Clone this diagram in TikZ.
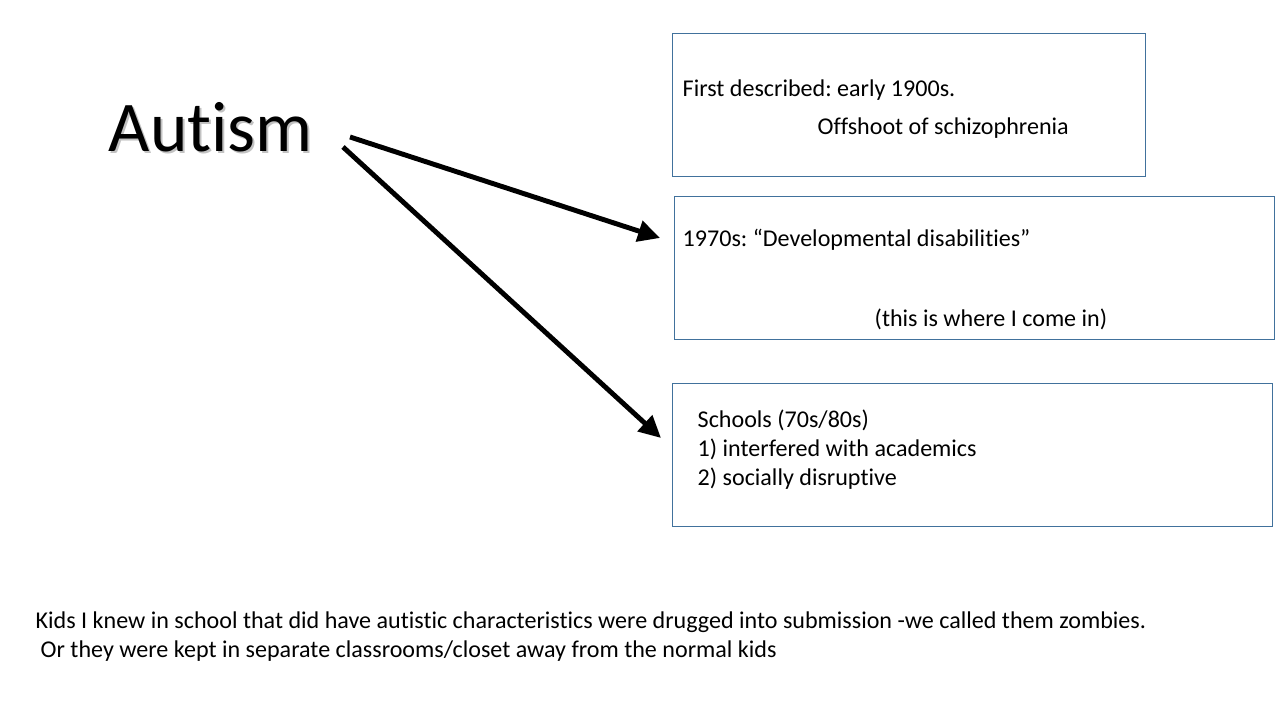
\documentclass[tikz,border=0pt]{standalone}
\usepackage{fontspec}
\setmainfont{Carlito}[Ligatures=NoCommon]
\usepackage{xcolor}
\usetikzlibrary{arrows.meta, positioning}
\definecolor{boxline}{HTML}{41719C}
\definecolor{shade}{HTML}{9A9A9A}
\frenchspacing

\begin{document}
\begin{tikzpicture}[
    card/.style={
        rectangle, draw=boxline, line width=0.4pt,
        minimum height=1.43cm, anchor=north west, inner sep=0pt,
    },
    line/.style={
        font=\fontsize{6.85}{8}\selectfont,
        anchor=base west, inner sep=0pt,
    },
    bigword/.style={
        font=\fontsize{20.3}{24}\selectfont,
        anchor=base west, inner sep=0pt,
    },
    pointer/.style={
        line width=1.4pt, -{Triangle[length=0.22cm, width=0.21cm]},
    },
]
\useasboundingbox (0,0) rectangle (12.8,-7.2);

% ── Title ──────────────────────────────────────────────────────────────────
\node[bigword, text=shade!60] (titleshadow) at (1.10,-1.54) {Autism};
\node[bigword] (title) at (1.08,-1.52) {Autism};

% ── Boxes ──────────────────────────────────────────────────────────────────
\node[card, minimum width=4.73cm] (early)   at (6.72,-0.33) {};
\node[card, minimum width=6.00cm] (seventy) at (6.74,-1.96) {};
\node[card, minimum width=6.00cm] (school)  at (6.72,-3.83) {};

\node[line] (e1) at (6.82,-0.97) {First described: early 1900s.};
\node[line] (e2) at (8.17,-1.35) {Offshoot of schizophrenia};

\node[line] (s1) at (6.82,-2.47) {1970s: “Developmental disabilities”};
\node[line] (s2) at (8.74,-3.27) {(this is where I come in)};

\node[line] (c1) at (6.97,-4.28) {Schools (70s/80s)};
\node[line] (c2) at (6.97,-4.57) {1) interfered with academics};
\node[line] (c3) at (6.97,-4.86) {2) socially disruptive};

% ── Arrows ─────────────────────────────────────────────────────────────────
\coordinate (from1) at (3.50,-1.37);
\coordinate (from2) at (3.43,-1.47);
\coordinate (to1)   at (6.60,-2.38);
\coordinate (to2)   at (6.61,-4.38);
\draw[pointer] (from1) -- (to1);
\draw[pointer] (from2) -- (to2);

% ── Note at the bottom ─────────────────────────────────────────────────────
\node[line] (k1) at (0.35,-6.28) {Kids I knew in school that did have autistic characteristics were drugged into submission -we called them zombies.};
\node[line] (k2) at (0.40,-6.57) {Or they were kept in separate classrooms/closet away from the normal kids};

\end{tikzpicture}
\end{document}
